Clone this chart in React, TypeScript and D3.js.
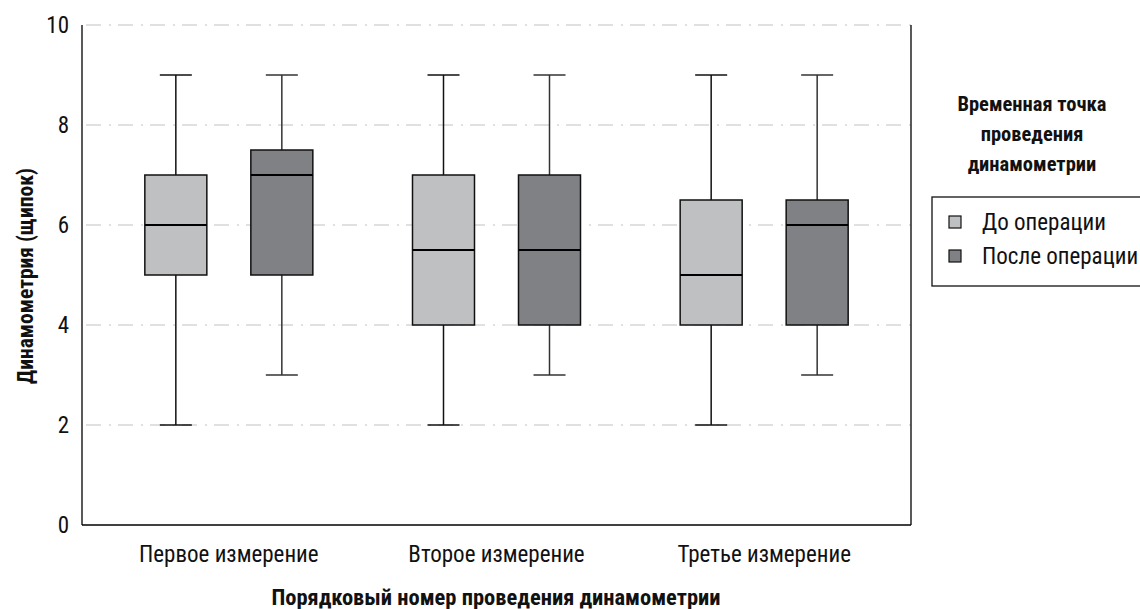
import React from "react";
import * as d3 from "d3";

const categories = ["Первое измерение", "Второе измерение", "Третье измерение"];
const seriesNames = ["До операции", "После операции"];
// [min, q1, median, q3, max] per category
const beforeStats = [
  [2, 5, 6, 7, 9],
  [2, 4, 5.5, 7, 9],
  [2, 4, 5, 6.5, 9],
];
const afterStats = [
  [3, 5, 7, 7.5, 9],
  [3, 4, 5.5, 7, 9],
  [3, 4, 6, 6.5, 9],
];
const yTicks = [0, 2, 4, 6, 8, 10];
const legendTitle = ["Временная точка", "проведения", "динамометрии"];
const colors = ["#bfc0c2", "#808185"];

const W = 1140;
const H = 609;
const FONT = "'Liberation Sans Narrow', 'Roboto Condensed', 'Arial Narrow', 'DejaVu Sans Condensed', sans-serif";

export default function App() {
  const left = 82, right = 911, top = 25, bottom = 525;
  const y = d3.scaleLinear().domain([0, 10]).range([bottom, top]);
  const x = d3.scaleBand<string>().domain(categories).range([95, 898]);
  const sub = d3.scaleBand<string>().domain(seriesNames).range([-106, 106]).paddingInner(0.0);
  const boxW = 62;
  const capW = 32;
  const all = [beforeStats, afterStats];

  return (
    <svg width={W} height={H} style={{ position: "absolute", left: 0, top: 0, background: "#fff" }} fontFamily={FONT}>
      {/* gridlines */}
      {yTicks.filter((t) => t > 0).map((t) => (
        <line key={"g" + t} x1={left + 4} x2={right} y1={y(t)} y2={y(t)} stroke="#d6d6d6" strokeWidth={1.5} strokeDasharray="15,8,2,7" />
      ))}
      {/* axes */}
      <line x1={left} x2={left} y1={top} y2={bottom} stroke="#000" strokeWidth={1.3} />
      <line x1={left} x2={right} y1={bottom} y2={bottom} stroke="#000" strokeWidth={1.3} />
      <line x1={right} x2={right} y1={top} y2={bottom} stroke="#000" strokeWidth={1.3} />
      {yTicks.map((t) => (
        <text key={"t" + t} x={69} y={y(t)} dy="0.36em" textAnchor="end" fontSize={23} fill="#111">{t}</text>
      ))}
      {categories.map((c) => (
        <text key={c} x={(x(c) as number) + x.bandwidth() / 2} y={562} textAnchor="middle" fontSize={23} fill="#111">{c}</text>
      ))}
      {/* boxes */}
      {categories.map((c, ci) => {
        const cx0 = (x(c) as number) + x.bandwidth() / 2;
        return seriesNames.map((s, si) => {
          const [mn, q1, md, q3, mx] = all[si][ci];
          const cx = cx0 + (sub(s) as number) + sub.bandwidth() / 2;
          const wcol = si === 0 ? "#111" : "#333";
          return (
            <g key={c + s}>
              <line x1={cx} x2={cx} y1={y(mx)} y2={y(q3)} stroke={wcol} strokeWidth={1.5} />
              <line x1={cx} x2={cx} y1={y(q1)} y2={y(mn)} stroke={wcol} strokeWidth={1.5} />
              <line x1={cx - capW / 2} x2={cx + capW / 2} y1={y(mx)} y2={y(mx)} stroke={wcol} strokeWidth={1.5} />
              <line x1={cx - capW / 2} x2={cx + capW / 2} y1={y(mn)} y2={y(mn)} stroke={wcol} strokeWidth={1.5} />
              <rect x={cx - boxW / 2} y={y(q3)} width={boxW} height={y(q1) - y(q3)} fill={colors[si]} stroke="#111" strokeWidth={1.5} />
              <line x1={cx - boxW / 2} x2={cx + boxW / 2} y1={y(md)} y2={y(md)} stroke="#000" strokeWidth={2.2} />
            </g>
          );
        });
      })}
      {/* axis titles */}
      <text x={496} y={605} textAnchor="middle" fontSize={22.5} fontWeight="bold" fill="#111">Порядковый номер проведения динамометрии</text>
      <text transform={`translate(33,${(top + bottom) / 2 + 1}) rotate(-90)`} textAnchor="middle" fontSize={21.5} fontWeight="bold" fill="#111">Динамометрия (щипок)</text>
      {/* legend */}
      <g>
        {legendTitle.map((l, i) => (
          <text key={l} x={1032} y={111 + i * 30} textAnchor="middle" fontSize={20.5} fontWeight="bold" fill="#111">{l}</text>
        ))}
        <rect x={932} y={197} width={215} height={89} fill="#fff" stroke="#111" strokeWidth={1.3} />
        {seriesNames.map((s, i) => (
          <g key={s}>
            <rect x={949} y={216 + i * 34} width={12} height={12} fill={colors[i]} stroke="#111" strokeWidth={1.2} />
            <text x={982} y={222 + i * 34} dy="0.36em" fontSize={23} fill="#111">{s}</text>
          </g>
        ))}
      </g>
    </svg>
  );
}
